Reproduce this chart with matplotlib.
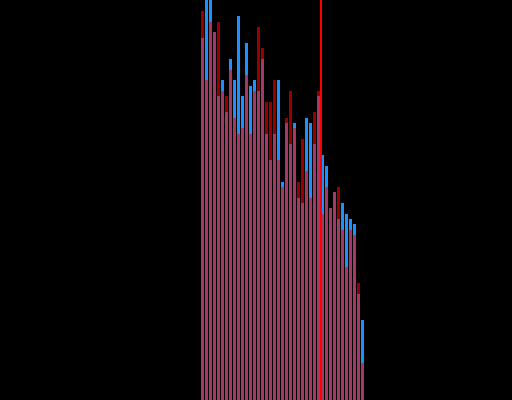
import matplotlib
matplotlib.use("Agg")
import matplotlib.pyplot as plt
import numpy as np

# bar index positions
positions = list(range(41))

blue_values = [90.5, 105, 104, 92, 76, 80, 72, 85.25, 80, 96, 76, 89.25, 78.5, 80,
               77.25, 85.25, 66.5, 60, 66.5, 80, 54.5, 69.25, 64, 69.25, 50.5, 49.25,
               70.5, 69.25, 64, 76, 61.25, 58.5, 48, 52, 45.25, 49.25, 46.5, 45.25,
               44, 26.5, 20]
red_values = [97.25, 80, 94.5, 92, 94.5, 77.25, 76, 82.5, 70.5, 66.5, 68, 81.25, 66.5,
              77.25, 93.25, 88, 74.5, 74.5, 80, 60, 53.25, 70.5, 77.25, 68, 54.5, 65.25,
              57.25, 50.5, 72, 77.25, 46.5, 53.25, 48, 52, 53.25, 42.5, 33.25, 42.5,
              41.25, 29.25, 9.25]
marker_x = 29.5

fig = plt.figure(figsize=(5.12, 4.0), dpi=100, facecolor="black")
ax = fig.add_axes([0, 0, 1, 1])
ax.set_facecolor("black")

ax.bar(positions, blue_values, width=0.75, color="#1e90ff", linewidth=0, zorder=2)
ax.bar(positions, red_values, width=0.75, color="#ff0000", alpha=0.6, linewidth=0, zorder=3)
ax.axvline(marker_x, color="#ff0000", linewidth=1.4, antialiased=False, zorder=4)

ax.set_xlim(-50.625, 77.375)
ax.set_ylim(0, 100)
ax.axis("off")

fig.savefig("out.png", dpi=100, facecolor="black")
